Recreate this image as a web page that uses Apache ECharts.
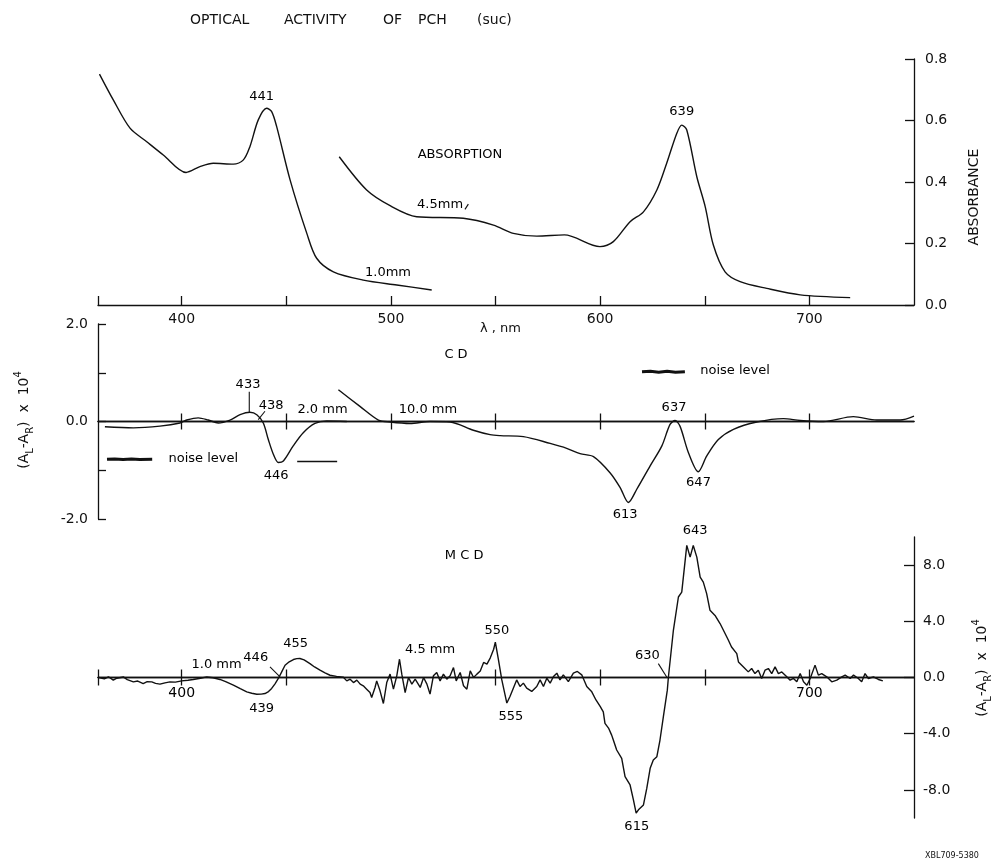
<!DOCTYPE html>
<html><head><meta charset="utf-8">
<script src="https://cdn.jsdelivr.net/npm/echarts@6/dist/echarts.min.js"></script>
<style>html,body{margin:0;padding:0;background:#fff}#c{width:993px;height:864px}</style>
</head><body><div id="c"></div>
<script>
// ---------- ABSORPTION (top panel) ----------
const abs1Wl = [360.7,367.3,375.3,383.3,391.2,402.1,408.7,415.1,424.7,429.5,432.6,436.6,440.6,443,445.4,451.8,459.8,464.5,472.5,486.8,502.8,519.5];
const abs1Val = [0.751,0.667,0.575,0.531,0.488,0.431,0.450,0.461,0.458,0.472,0.515,0.602,0.640,0.629,0.580,0.407,0.233,0.152,0.108,0.081,0.065,0.049];
const abs2Wl = [475.3,488.4,499.6,512.3,534.6,549,558.5,569.7,582.9,599.9,606.3,614.3,620.7,627.1,631.8,636.6,639,641.4,646.2,650.2,654.1,659.7,666.9,679.6,695.6,719.5];
const abs2Val = [0.482,0.374,0.323,0.287,0.282,0.260,0.233,0.224,0.228,0.190,0.206,0.271,0.303,0.374,0.461,0.558,0.585,0.569,0.417,0.320,0.195,0.108,0.076,0.054,0.033,0.024];
const absNoteWl = [438.2,639,533,523.5,498.6];
const absNoteVal = [0.677,0.629,0.488,0.325,0.105];
const absNoteText = ['441','639','ABSORPTION','4.5mm','1.0mm'];
const absLeaderWl = [537,535.4];
const absLeaderVal = [0.328,0.311];

// ---------- CD (middle panel) ----------
const cd2Wl = [363.3,376.9,389.6,399.2,402.4,407.9,412.7,417.5,423.1,427.9,432.6,435.9,439,441.4,443.8,446.2,448.6,453.3,458.1,463.7,469.3,478.9];
const cd2Val = [-0.108,-0.13,-0.095,-0.03,0.03,0.075,0.03,-0.03,0.03,0.14,0.19,0.14,-0.03,-0.37,-0.67,-0.84,-0.81,-0.5,-0.23,-0.04,0.01,0];
const cd10Wl = [474.9,485.2,494,499.6,509.1,518.7,528.3,539.4,547.4,552.2,563.3,576.1,584,590.4,596.8,604.7,609.5,613.5,617.5,623.9,629.5,633.4,635.8,638.2,642.2,646.9,650.9,656.5,663.7,674.9,687.6,695.6,706.7,721,732.2,743.4,750];
const cd10Val = [0.65,0.31,0.03,-0.01,-0.04,0,-0.01,-0.18,-0.27,-0.29,-0.31,-0.45,-0.55,-0.66,-0.72,-1.05,-1.35,-1.66,-1.39,-0.91,-0.50,-0.06,0.02,-0.10,-0.64,-1.03,-0.71,-0.37,-0.16,-0.01,0.06,0.02,0,0.1,0.03,0.03,0.11];
const cdNoteWl = [531.1,431.7,442.7,467.3,517.7,445.1,410.3,664.5,635.3,647,611.9];
const cdNoteVal = [1.37,0.76,0.33,0.246,0.246,-1.11,-0.765,1.046,0.28,-1.26,-1.91];
const cdNoteText = ['C D','433','438','2.0 mm','10.0 mm','446','noise level','noise level','637','647','613'];
const cdLeader433Wl = [432.3,432.3];
const cdLeader433Val = [0.61,0.19];
const cdLeader438Wl = [439.8,436.6];
const cdLeader438Val = [0.21,0.04];
const cdNoiseLeftWl = [364.3,368,372,376,380,385.9];
const cdNoiseLeftVal = [-0.776,-0.77,-0.78,-0.77,-0.78,-0.776];
const cdNoiseRightWl = [620,624,628,632,636,640.5];
const cdNoiseRightVal = [1.02,1.03,1.01,1.03,1.01,1.02];
const cdDashWl = [455.2,474.3];
const cdDashVal = [-0.82,-0.82];

// ---------- MCD (bottom panel) ----------
const mcdWl = [360.5,363,365,367.3,369,372.1,374,376.9,379,381.6,383.5,385.7,387.5,389.6,392,394.4,397,400,403,405.5,409,412,415,418.3,421,424.7,428,431.1,433.5,435.9,438,439.8,441.5,443,444.6,446.2,447.8,449.4,451.4,453.4,455,456.5,458.5,461.3,463.5,466.1,468.5,470.9,474,477.3,
478.9,480.5,482.1,483.7,485.3,486.8,488.4,490.0,490.8,492.4,493.2,494.8,496.4,498.0,499.6,501.2,502.8,504.1,505.2,506.8,508.4,510.0,511.6,514.0,515.6,517.2,518.7,520.3,521.9,523.5,525.1,526.7,528.3,529.9,531.2,533.1,534.7,536.3,537.9,539.5,541.1,542.7,544.3,545.9,547.5,549.1,549.9,551.4,553.0,555.4,556.9,558.5,560.1,561.7,563.3,564.9,567.3,569.7,571.3,572.9,574.5,576.1,577.7,579.3,580.8,582.4,584.8,587.2,589.1,591.2,593.6,596.0,598.0,600.0,601.5,602.3,604.0,605.5,606.3,607.9,610.3,611.9,614.3,615.9,617.2,618.3,620.7,622.3,623.9,625.4,627.1,628.6,630.2,632.1,632.6,635.0,637.4,639.0,641.4,643.0,644.5,646.2,647.8,649.3,650.9,652.5,654.9,657.3,659.7,661.3,662.8,665.3,666.1,668.5,670.8,672.4,674.0,675.6,677.2,678.8,680.4,682.0,683.6,685.2,686.8,689.2,690.8,692.4,694.0,695.6,697.2,698.8,700.4,702.7,704.3,705.9,708.3,710.7,713.1,715.5,717.1,719.5,721.1,723.4,725.0,726.6,728.2,730.6,733.0,735.1];
const mcdVal = [0,-0.1,0.05,-0.19,-0.05,0.04,-0.15,-0.31,-0.25,-0.43,-0.3,-0.31,-0.42,-0.47,-0.38,-0.31,-0.33,-0.24,-0.2,-0.14,-0.05,0.04,-0.02,-0.14,-0.3,-0.55,-0.8,-1.02,-1.12,-1.19,-1.18,-1.14,-1.0,-0.78,-0.45,-0.07,0.4,0.87,1.12,1.28,1.34,1.35,1.25,0.99,0.75,0.52,0.33,0.16,0.08,0.02,
-0.24,-0.12,-0.36,-0.19,-0.47,-0.59,-0.83,-1.07,-1.42,-0.71,-0.24,-0.95,-1.85,-0.36,0.24,-0.83,0.12,1.30,0.24,-1.07,0,-0.47,-0.12,-0.71,0,-0.47,-1.18,0.12,0.36,-0.24,0.24,-0.12,0.12,0.71,-0.24,0.36,-0.59,-0.83,0.47,0,0.24,0.47,1.07,0.95,1.40,2.01,2.52,1.26,-0.17,-1.82,-1.35,-0.76,-0.17,-0.64,-0.40,-0.76,-0.99,-0.64,-0.17,-0.64,-0.05,-0.40,0.07,0.31,-0.17,0.19,-0.29,0.31,0.43,0.19,-0.64,-1.02,-1.6,-2.06,-2.44,-3.27,-3.6,-4.10,-4.45,-5.16,-5.75,-7.06,-7.65,-8.71,-9.66,-9.42,-9.07,-7.88,-6.46,-5.87,-5.64,-4.45,-2.80,-0.90,0,3.36,5.73,6.08,9.40,8.57,9.40,8.57,7.15,6.79,5.97,4.78,4.42,3.84,3.13,2.65,2.17,1.70,1.11,0.75,0.40,0.64,0.28,0.52,-0.07,0.52,0.64,0.28,0.76,0.28,0.40,0.05,-0.19,-0.07,-0.31,0.28,-0.31,-0.55,-0.07,0.88,0.17,0.28,0.05,-0.31,-0.19,0.05,0.17,-0.07,0.17,-0.07,-0.31,0.28,-0.07,0.05,-0.14,-0.24];
const mcdNoteWl = [535,416.7,435.4,454.5,438.2,518.7,550.6,557.3,645.4,622.6,617.5];
const mcdNoteVal = [8.7,0.95,1.42,2.42,-2.2,1.99,3.37,-2.8,10.48,1.59,-10.58];
const mcdNoteText = ['M C D','1.0 mm','446','455','439','4.5 mm','550','555','643','630','615'];
const mcdLeader446Wl = [442.2,447];
const mcdLeader446Val = [0.75,0.04];
const mcdLeader630Wl = [627.8,631.8];
const mcdLeader630Val = [0.99,0.04];

// ---------- tick / label values ----------
const topTicks = [360,400,450,500,550,600,650,700];
const topLabels = [400,500,600,700];
const cdTicks = [400,450,500,550,600,650,700];
const mcdTicks = [360,400,450,550,600,650,700];
const mcdLabels = [400,700];
const mcdYTicks = [-8,-4,0,4,8];

const INK = '#111';
const FONT = 'DejaVu Sans';
const pairs = (a, b) => a.map((x, i) => [x, b[i]]);
const notes = (w, v, t) => w.map((x, i) => [x, v[i], t[i]]);

function lineSeries(xi, yi, data, width, smooth) {
  return { type: 'line', xAxisIndex: xi, yAxisIndex: yi, data: data, symbol: 'none', smooth: smooth || false,
    lineStyle: { color: INK, width: width || 1.4 }, silent: true, animation: false, clip: false };
}
function noteSeries(xi, yi, data, pos, size, dist) {
  return { type: 'scatter', xAxisIndex: xi, yAxisIndex: yi, data: data, symbolSize: 0, clip: false, silent: true,
    itemStyle: { color: '#000', opacity: 1 }, symbol: 'circle',
    label: { show: true, position: pos || 'inside', distance: dist || 5, formatter: p => p.data[2],
      color: '#000', textBorderWidth: 0, opacity: 1, fontSize: size || 13, fontFamily: FONT },
    animation: false };
}
const axLine = { lineStyle: { color: INK, width: 1.3 } };
function xAx(grid, pos, ticks, labels, tickLen, inside, margin) {
  return {
    gridIndex: grid, type: 'value', min: 360, max: 750, position: pos,
    axisLine: Object.assign({ show: true }, axLine, grid === 0 ? { onZero: false } : { onZero: true, onZeroAxisIndex: grid }),
    axisTick: { show: true, inside: inside, length: tickLen, customValues: ticks, lineStyle: { color: INK, width: 1.3 } },
    axisLabel: labels ? { show: true, customValues: labels, margin: margin, color: INK, fontSize: 14, fontFamily: FONT } : { show: false },
    splitLine: { show: false }
  };
}
const sub = { fontSize: 10, lineHeight: 12, verticalAlign: 'bottom', fontFamily: FONT, fill: INK };
const nrm = { fontSize: 14, lineHeight: 22, fontFamily: FONT, fill: INK };
const sup = { fontSize: 10, lineHeight: 12, verticalAlign: 'top', fontFamily: FONT, fill: INK };
const yName = '{n|(A}{s|L}{n|-A}{s|R}{n|)  x  10}{p|4}';
function gText(text, x, y, size, extra) {
  return Object.assign({ type: 'text', x: x, y: y, silent: true,
    style: { text: text, fontSize: size, fontFamily: FONT, fill: INK, align: 'left', verticalAlign: 'middle' } }, extra || {});
}

const option = {
  backgroundColor: '#fff',
  animation: false,
  grid: [
    { left: 98, top: 59, width: 816, height: 246 },
    { left: 98, top: 324, width: 816, height: 195 },
    { left: 98, top: 537, width: 816, height: 281 }
  ],
  xAxis: [
    xAx(0, 'bottom', topTicks, topLabels, 9, true, 7),
    xAx(1, 'bottom', cdTicks, null, 8, false),
    xAx(1, 'top', cdTicks, null, 8, false),
    xAx(2, 'bottom', mcdTicks, null, 8, false),
    xAx(2, 'top', mcdTicks, null, 8, false)
  ],
  yAxis: [
    { gridIndex: 0, type: 'value', position: 'right', min: 0, max: 0.8, interval: 0.2,
      axisLine: Object.assign({ show: true, onZero: false }, axLine),
      axisTick: { show: true, inside: true, length: 9, lineStyle: { color: INK, width: 1.3 } },
      axisLabel: { margin: 11, color: INK, fontSize: 14, fontFamily: FONT, formatter: v => v.toFixed(1) },
      splitLine: { show: false } },
    { gridIndex: 1, type: 'value', position: 'left', min: -2, max: 2, interval: 1,
      axisLine: Object.assign({ show: true, onZero: false }, axLine),
      axisTick: { show: true, inside: true, length: 8, lineStyle: { color: INK, width: 1.3 } },
      axisLabel: { margin: 10, color: INK, fontSize: 14, fontFamily: FONT, formatter: v => (Math.abs(v) % 2 === 0 ? v.toFixed(1) : '') },
      splitLine: { show: false } },
    { gridIndex: 2, type: 'value', position: 'right', min: -10, max: 10,
      axisLine: Object.assign({ show: true, onZero: false }, axLine),
      axisTick: { show: true, inside: true, length: 10, customValues: mcdYTicks, lineStyle: { color: INK, width: 1.3 } },
      axisLabel: { margin: 9, color: INK, fontSize: 14, fontFamily: FONT, customValues: mcdYTicks, formatter: v => v.toFixed(1) },
      splitLine: { show: false } }
  ],
  series: [
    lineSeries(0, 0, pairs(abs1Wl, abs1Val), 1.4, 0.3),
    lineSeries(0, 0, pairs(abs2Wl, abs2Val), 1.4, 0.3),
    lineSeries(0, 0, pairs(absLeaderWl, absLeaderVal), 1.1),
    noteSeries(0, 0, notes(absNoteWl, absNoteVal, absNoteText)),

    lineSeries(1, 1, pairs(cd2Wl, cd2Val), 1.4, 0.3),
    lineSeries(1, 1, pairs(cd10Wl, cd10Val), 1.4, 0.3),
    lineSeries(1, 1, pairs(cdLeader433Wl, cdLeader433Val), 1.1),
    lineSeries(1, 1, pairs(cdLeader438Wl, cdLeader438Val), 1.1),
    lineSeries(1, 1, pairs(cdNoiseLeftWl, cdNoiseLeftVal), 3),
    lineSeries(1, 1, pairs(cdNoiseRightWl, cdNoiseRightVal), 3),
    lineSeries(1, 1, pairs(cdDashWl, cdDashVal), 1.3),
    noteSeries(1, 1, notes(cdNoteWl, cdNoteVal, cdNoteText)),

    lineSeries(3, 2, pairs(mcdWl, mcdVal), 1.4, false),
    lineSeries(3, 2, pairs(mcdLeader446Wl, mcdLeader446Val), 1.1),
    lineSeries(3, 2, pairs(mcdLeader630Wl, mcdLeader630Val), 1.1),
    noteSeries(3, 2, notes(mcdNoteWl, mcdNoteVal, mcdNoteText)),
    // x tick labels of the MCD axis, set just under its zero line
    noteSeries(3, 2, mcdLabels.map(v => [v, 0, String(v)]), 'bottom', 14, 9)
  ],
  graphic: { elements: [
    gText('OPTICAL', 190, 20, 14),
    gText('ACTIVITY', 284, 20, 14),
    gText('OF', 383, 20, 14),
    gText('PCH', 418, 20, 14),
    gText('(suc)', 477, 20, 14),
    gText('λ , nm', 480, 329, 13),
    gText('ABSORBANCE', 974, 197, 14, { rotation: Math.PI / 2, style: { text: 'ABSORBANCE', fontSize: 14, fontFamily: FONT, fill: INK, align: 'center', verticalAlign: 'middle' } }),
    { type: 'text', x: 24, y: 420, rotation: Math.PI / 2, silent: true,
      style: { text: yName, align: 'center', verticalAlign: 'middle', rich: { n: nrm, s: sub, p: sup } } },
    { type: 'text', x: 982, y: 668, rotation: Math.PI / 2, silent: true,
      style: { text: yName, align: 'center', verticalAlign: 'middle', rich: { n: nrm, s: sub, p: sup } } },
    gText('XBL709-5380', 925, 856, 8)
  ] }
};
const chart = echarts.init(document.getElementById('c'));
chart.setOption(option);
</script>
</body></html>
